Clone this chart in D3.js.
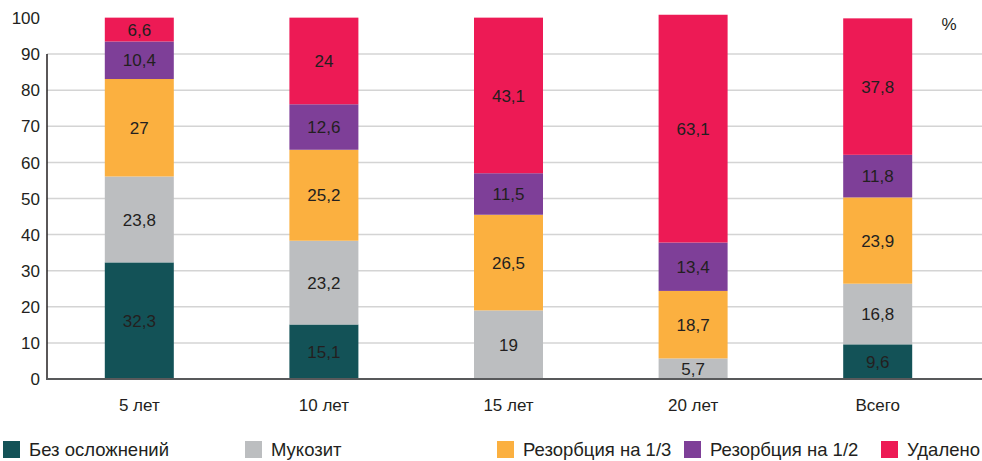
<!DOCTYPE html>
<html>
<head>
<meta charset="utf-8">
<script src="https://cdn.jsdelivr.net/npm/d3@7"></script>
<style>
  html, body { margin: 0; padding: 0; background: #fff; }
  svg { display: block; font-family: "Liberation Sans", Arial, sans-serif; }
</style>
</head>
<body>
<svg id="chart" width="982" height="461"></svg>
<script>
// данные
const categories = ['5 лет', '10 лет', '15 лет', '20 лет', 'Всего'];
const seriesNames = ['Без осложнений', 'Мукозит', 'Резорбция на 1/3', 'Резорбция на 1/2', 'Удалено'];
const noComplications = [32.3, 15.1, 0, 0, 9.6];
const mucositis = [23.8, 23.2, 19, 5.7, 16.8];
const resorption13 = [27, 25.2, 26.5, 18.7, 23.9];
const resorption12 = [10.4, 12.6, 11.5, 13.4, 11.8];
const removed = [6.6, 24, 43.1, 63.1, 37.8];
const yTicks = [0, 10, 20, 30, 40, 50, 60, 70, 80, 90, 100];
const colors = ['#135257', '#bcbec0', '#fbb040', '#7e3f98', '#ed1a55'];

const seriesValues = [noComplications, mucositis, resorption13, resorption12, removed];
const table = categories.map((c, i) => {
  const row = { cat: c };
  seriesNames.forEach((s, j) => row[s] = seriesValues[j][i]);
  return row;
});

const svg = d3.select('#chart');

const x = d3.scalePoint().domain(categories).range([47, 970]).padding(0.5);
const y = d3.scaleLinear().domain([0, 100]).range([379, 18]);
const barWidth = 69;

// сетка
svg.append('g')
  .selectAll('line')
  .data(yTicks.filter(d => d > 0 && d < 100))
  .enter().append('line')
  .attr('x1', 47).attr('x2', 982)
  .attr('y1', d => y(d)).attr('y2', d => y(d))
  .attr('stroke', '#d4d4d4')
  .attr('stroke-width', 1.5);

// подписи оси Y
svg.append('g')
  .selectAll('text')
  .data(yTicks)
  .enter().append('text')
  .attr('x', 40)
  .attr('y', d => y(d))
  .attr('dy', '0.36em')
  .attr('text-anchor', 'end')
  .style('font-size', '17px')
  .style('fill', '#231f20')
  .text(d => d);

// столбцы
const stack = d3.stack().keys(seriesNames);
const layers = stack(table);

const layerG = svg.append('g')
  .selectAll('g')
  .data(layers)
  .enter().append('g')
  .attr('fill', (d, i) => colors[i]);

layerG.selectAll('rect')
  .data(d => d.filter(p => p[1] - p[0] > 0))
  .enter().append('rect')
  .attr('x', d => x(d.data.cat) - barWidth / 2)
  .attr('width', barWidth)
  .attr('y', d => y(d[1]))
  .attr('height', d => y(d[0]) - y(d[1]));

layerG.selectAll('text')
  .data(d => d.filter(p => p[1] - p[0] > 0))
  .enter().append('text')
  .attr('x', d => x(d.data.cat))
  .attr('y', d => y((d[0] + d[1]) / 2))
  .attr('dy', '0.36em')
  .attr('text-anchor', 'middle')
  .style('font-size', '17px')
  .style('fill', '#231f20')
  .text(d => String(+(d[1] - d[0]).toFixed(1)).replace('.', ','));

// оси
svg.append('line')
  .attr('x1', 47).attr('x2', 47)
  .attr('y1', y(90)).attr('y2', y(0) + 1)
  .attr('stroke', '#231f20')
  .attr('stroke-width', 1.5);

svg.append('line')
  .attr('x1', 46).attr('x2', 982)
  .attr('y1', y(0)).attr('y2', y(0))
  .attr('stroke', '#58595b')
  .attr('stroke-width', 2);

// подписи категорий
svg.append('g')
  .selectAll('text')
  .data(categories)
  .enter().append('text')
  .attr('x', d => x(d))
  .attr('y', 411)
  .attr('text-anchor', 'middle')
  .style('font-size', '17px')
  .style('fill', '#231f20')
  .text(d => d);

svg.append('text')
  .attr('x', 949)
  .attr('y', 30)
  .attr('text-anchor', 'middle')
  .style('font-size', '17px')
  .style('fill', '#231f20')
  .text('%');

// легенда
const legendX = [3, 245, 497, 684, 881];
const legend = svg.append('g')
  .selectAll('g')
  .data(seriesNames)
  .enter().append('g')
  .attr('transform', (d, i) => `translate(${legendX[i]}, 441)`);

legend.append('rect')
  .attr('width', 17)
  .attr('height', 17)
  .attr('fill', (d, i) => colors[i]);

legend.append('text')
  .attr('x', 26)
  .attr('y', 15)
  .style('font-size', '18.5px')
  .style('fill', '#231f20')
  .text(d => d);
</script>
</body>
</html>
